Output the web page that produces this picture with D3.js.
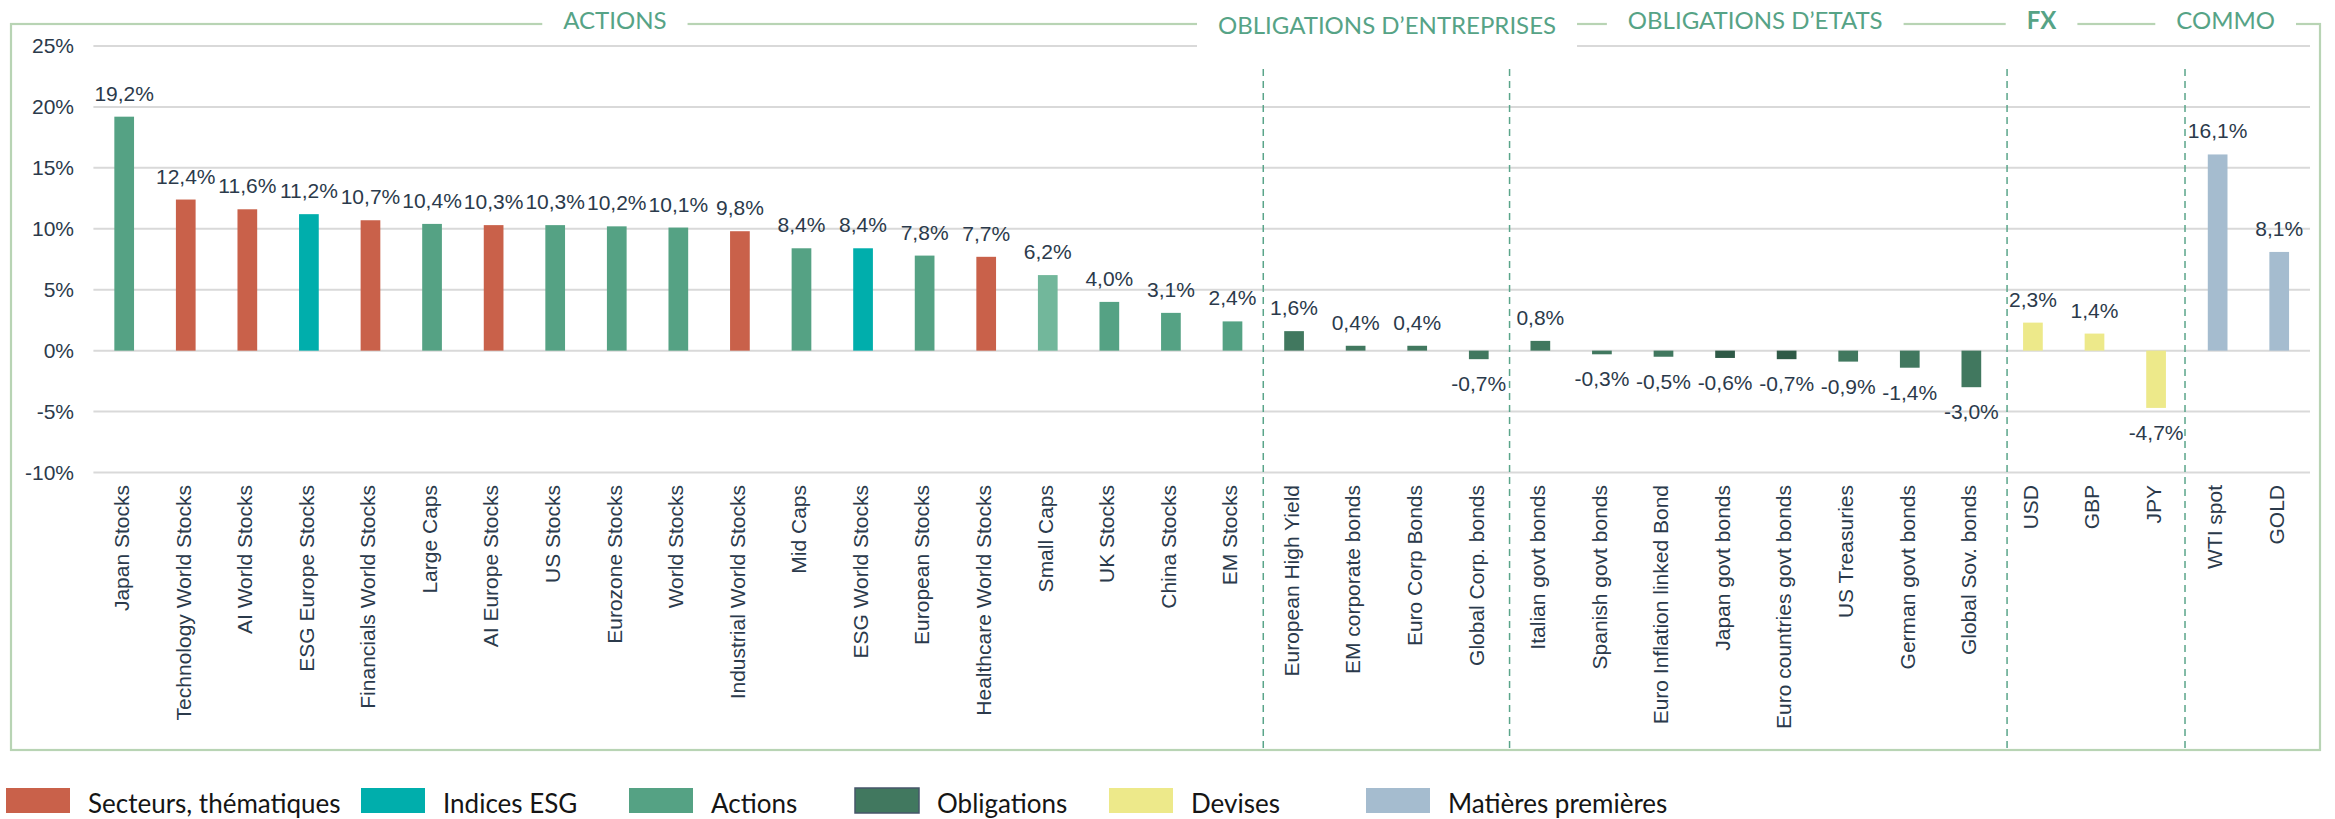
<!DOCTYPE html>
<html>
<head>
<meta charset="utf-8">
<script src="https://cdn.jsdelivr.net/npm/d3@7"></script>
<style>
  body { margin: 0; background: #fff; }
  .cat, .val, .tick-lbl { font-family: Arial, "Liberation Sans", sans-serif; fill: #2b3a4b; }
  .head { font-family: Lato, sans-serif; fill: #56a386; }
  .leg { font-family: Lato, sans-serif; fill: #151515; }
</style>
</head>
<body>
<div class="viz"></div>
<script>
var categories = [
    "Japan Stocks", "Technology World Stocks", "AI World Stocks", "ESG Europe Stocks",
    "Financials World Stocks", "Large Caps", "AI Europe Stocks", "US Stocks", "Eurozone Stocks",
    "World Stocks", "Industrial World Stocks", "Mid Caps", "ESG World Stocks", "European Stocks",
    "Healthcare World Stocks", "Small Caps", "UK Stocks", "China Stocks", "EM Stocks",
    "European High Yield", "EM corporate bonds", "Euro Corp Bonds", "Global Corp. bonds",
    "Italian govt bonds", "Spanish govt bonds", "Euro Inflation linked Bond", "Japan govt bonds",
    "Euro countries govt bonds", "US Treasuries", "German govt bonds", "Global Sov. bonds",
    "USD", "GBP", "JPY", "WTI spot", "GOLD"
];

var values = [
    19.2, 12.4, 11.6, 11.2, 10.7, 10.4, 10.3, 10.3, 10.2, 10.1, 9.8, 8.4, 8.4, 7.8, 7.7, 6.2, 4.0, 3.1, 2.4,
    1.6, 0.4, 0.4, -0.7,
    0.8, -0.3, -0.5, -0.6, -0.7, -0.9, -1.4, -3.0,
    2.3, 1.4, -4.7,
    16.1, 8.1
];

// colour family of every bar
var kinds = [
    "act", "sect", "sect", "esg", "sect", "act", "sect", "act", "act", "act", "sect", "act", "esg", "act",
    "sect", "act2", "act", "act", "act",
    "obl", "obl", "obl", "obl",
    "obl", "obl", "obl", "obl2", "obl2", "obl", "obl", "obl",
    "dev", "dev", "dev",
    "mp", "mp"
];

var colors = {
    sect: "#c9614a", esg: "#00aeac", act: "#55a284", act2: "#72b79b",
    obl: "#41785f", obl2: "#2f5a47", dev: "#ede98a", mp: "#a5bccf"
};

var groupNames = ["ACTIONS", "OBLIGATIONS D\u2019ENTREPRISES", "OBLIGATIONS D\u2019ETATS", "FX", "COMMO"];
var yTicks = [-10, -5, 0, 5, 10, 15, 20, 25];

var legendNames = ["Secteurs, th\u00e9matiques", "Indices ESG", "Actions", "Obligations", "Devises", "Mati\u00e8res premi\u00e8res"];
var legendKinds = ["sect", "esg", "act", "obl", "dev", "mp"];

// layout
var width = 2335, height = 819;
var plot = { left: 93.4, right: 2310, top: 46, bottom: 472.5 };
var headAt = [8.47, 21.01, 26.99, 31.64, 34.63];   // in bar slots
var sepAt = [19, 23, 31.08, 33.97];
var legendX = [6, 361, 629, 855, 1109, 1366];

var fr = d3.formatLocale({ decimal: ",", thousands: " ", grouping: [3], currency: ["", "\u00a0\u20ac"], minus: "-" });
var fmtVal = fr.format(".1f");
var fmtTick = fr.format("d");

var svg = d3.select(".viz").append("svg")
    .attr("width", width)
    .attr("height", height);

svg.append("rect").attr("width", width).attr("height", height).attr("fill", "#fff");

var x = d3.scaleBand()
    .domain(categories)
    .range([plot.left, plot.right])
    .paddingInner(0.68)
    .paddingOuter(0.34);

var slot = d3.scaleLinear()
    .domain([0, categories.length])
    .range([plot.left, plot.right]);

var y = d3.scaleLinear()
    .domain([-10, 25])
    .range([plot.bottom, plot.top]);

// frame
svg.append("rect")
    .attr("x", 11).attr("y", 24)
    .attr("width", 2309).attr("height", 726)
    .attr("fill", "none")
    .attr("stroke", "#b8d4b4")
    .attr("stroke-width", 2.2);

// gridlines + y labels
var yAxis = svg.append("g").attr("class", "y-axis");
yAxis.selectAll("line")
    .data(yTicks)
    .enter().append("line")
    .attr("x1", plot.left).attr("x2", plot.right)
    .attr("y1", d => y(d)).attr("y2", d => y(d))
    .attr("stroke", "#d9d9d9")
    .attr("stroke-width", 2);

yAxis.selectAll("text")
    .data(yTicks)
    .enter().append("text")
    .attr("class", "tick-lbl")
    .attr("x", 74)
    .attr("y", d => y(d))
    .attr("dy", "0.35em")
    .attr("text-anchor", "end")
    .style("font-size", "21px")
    .text(d => fmtTick(d) + "%");

// group headers sitting on the frame
var heads = svg.append("g").attr("class", "heads")
    .selectAll("g")
    .data(groupNames)
    .enter().append("g");

heads.append("rect").attr("fill", "#fff");
heads.append("text")
    .attr("class", "head")
    .attr("x", (d, i) => slot(headAt[i]))
    .attr("y", (d, i) => i == 1 ? 34 : 29)
    .attr("text-anchor", "middle")
    .style("font-size", "24px")
    .style("font-weight", d => d == "FX" ? 700 : 400)
    .text(d => d);

heads.each(function(d, i) {
    var g = d3.select(this);
    var w = g.select("text").node().getComputedTextLength();
    var cx = slot(headAt[i]);
    g.select("rect")
        .attr("x", cx - w / 2 - 21)
        .attr("width", w + 42)
        .attr("y", i == 1 ? 2 : 12)
        .attr("height", i == 1 ? 50 : 22);
});

// dashed separators
svg.append("g").selectAll("line")
    .data(sepAt)
    .enter().append("line")
    .attr("x1", d => slot(d)).attr("x2", d => slot(d))
    .attr("y1", 69).attr("y2", 749)
    .attr("stroke", "#5aa58a")
    .attr("stroke-width", 1.5)
    .attr("stroke-dasharray", "7,5");

// bars
svg.append("g").selectAll("rect")
    .data(categories)
    .enter().append("rect")
    .attr("x", d => x(d))
    .attr("width", x.bandwidth())
    .attr("y", (d, i) => y(Math.max(0, values[i])))
    .attr("height", (d, i) => Math.abs(y(values[i]) - y(0)))
    .attr("fill", (d, i) => colors[kinds[i]]);

// value labels
svg.append("g").selectAll("text")
    .data(categories)
    .enter().append("text")
    .attr("class", "val")
    .attr("x", d => x(d) + x.bandwidth() / 2)
    .attr("y", (d, i) => values[i] >= 0 ? y(values[i]) - 16 : y(values[i]) + 32)
    .attr("text-anchor", "middle")
    .style("font-size", "21px")
    .text((d, i) => fmtVal(values[i]) + "%");

// category labels
svg.append("g").selectAll("text")
    .data(categories)
    .enter().append("text")
    .attr("class", "cat")
    .attr("transform", d => "translate(" + (x(d) + x.bandwidth() / 2) + ",485)rotate(-90)")
    .attr("dy", "0.23em")
    .attr("text-anchor", "end")
    .style("font-size", "21px")
    .text(d => d);

// legend
var leg = svg.append("g").selectAll("g")
    .data(legendNames)
    .enter().append("g")
    .attr("transform", (d, i) => "translate(" + legendX[i] + ",788)");

leg.append("rect")
    .attr("width", 64).attr("height", 25)
    .attr("fill", (d, i) => colors[legendKinds[i]])
    .attr("stroke", (d, i) => legendKinds[i] == "obl" ? "#46566a" : "none")
    .attr("stroke-width", 1.5);

leg.append("text")
    .attr("class", "leg")
    .attr("x", 82)
    .attr("y", 25)
    .style("font-size", "26px")
    .text(d => d);
</script>
</body>
</html>
